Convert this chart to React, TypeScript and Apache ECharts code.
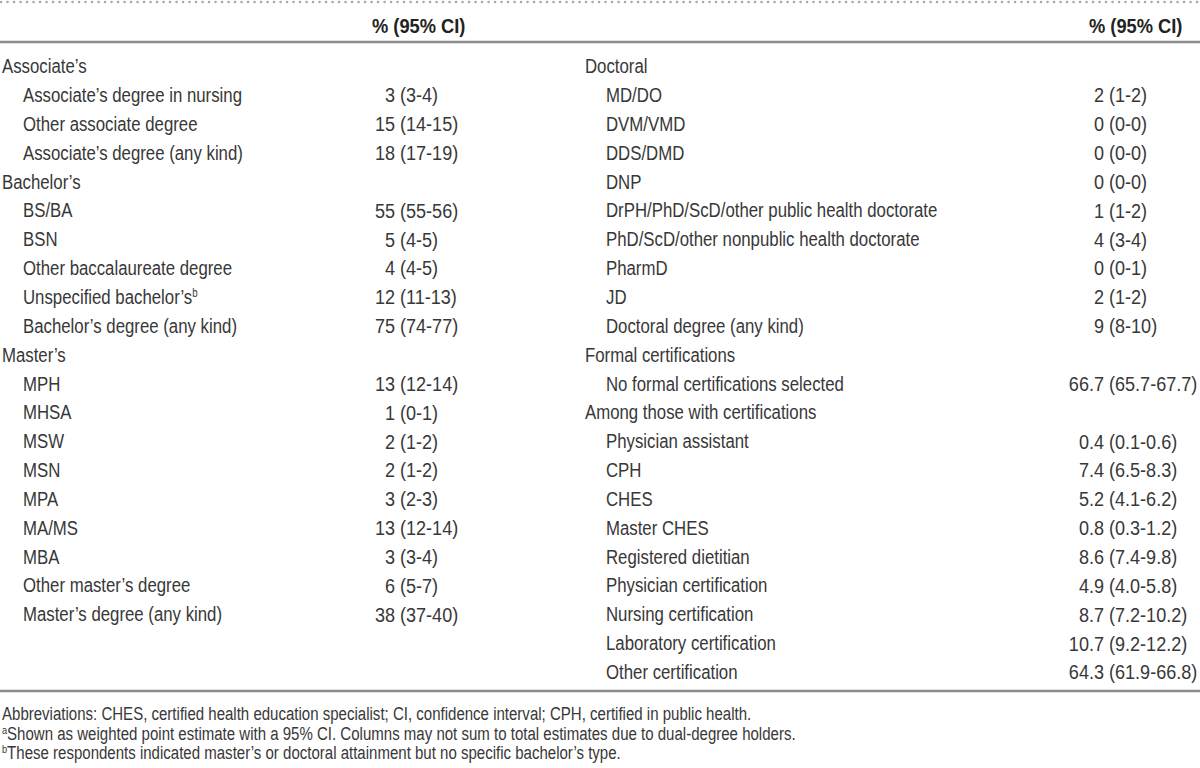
import React, { useEffect, useRef } from "react";
import * as echarts from "echarts";

// ---- Data ----
const leftLabels = [
  "Associate’s",
  "Associate’s degree in nursing",
  "Other associate degree",
  "Associate’s degree (any kind)",
  "Bachelor’s",
  "BS/BA",
  "BSN",
  "Other baccalaureate degree",
  "Unspecified bachelor’s{sup|b}",
  "Bachelor’s degree (any kind)",
  "Master’s",
  "MPH",
  "MHSA",
  "MSW",
  "MSN",
  "MPA",
  "MA/MS",
  "MBA",
  "Other master’s degree",
  "Master’s degree (any kind)",
];
const leftGroup = [1, 0, 0, 0, 1, 0, 0, 0, 0, 0, 1, 0, 0, 0, 0, 0, 0, 0, 0, 0];
const leftEstimate = ["", "3", "15", "18", "", "55", "5", "4", "12", "75", "", "13", "1", "2", "2", "3", "13", "3", "6", "38"];
const leftLower = ["", "3", "14", "17", "", "55", "4", "4", "11", "74", "", "12", "0", "1", "1", "2", "12", "3", "5", "37"];
const leftUpper = ["", "4", "15", "19", "", "56", "5", "5", "13", "77", "", "14", "1", "2", "2", "3", "14", "4", "7", "40"];

const rightLabels = [
  "Doctoral",
  "MD/DO",
  "DVM/VMD",
  "DDS/DMD",
  "DNP",
  "DrPH/PhD/ScD/other public health doctorate",
  "PhD/ScD/other nonpublic health doctorate",
  "PharmD",
  "JD",
  "Doctoral degree (any kind)",
  "Formal certifications",
  "No formal certifications selected",
  "Among those with certifications",
  "Physician assistant",
  "CPH",
  "CHES",
  "Master CHES",
  "Registered dietitian",
  "Physician certification",
  "Nursing certification",
  "Laboratory certification",
  "Other certification",
];
const rightGroup = [1, 0, 0, 0, 0, 0, 0, 0, 0, 0, 1, 0, 1, 0, 0, 0, 0, 0, 0, 0, 0, 0];
const rightEstimate = ["", "2", "0", "0", "0", "1", "4", "0", "2", "9", "", "66.7", "", "0.4", "7.4", "5.2", "0.8", "8.6", "4.9", "8.7", "10.7", "64.3"];
const rightLower = ["", "1", "0", "0", "0", "1", "3", "0", "1", "8", "", "65.7", "", "0.1", "6.5", "4.1", "0.3", "7.4", "4.0", "7.2", "9.2", "61.9"];
const rightUpper = ["", "2", "0", "0", "0", "2", "4", "1", "2", "10", "", "67.7", "", "0.6", "8.3", "6.2", "1.2", "9.8", "5.8", "10.2", "12.2", "66.8"];

const headerLabel = "% (95% CI)";
const footnotes = [
  "Abbreviations: CHES, certified health education specialist; CI, confidence interval; CPH, certified in public health.",
  "{sup|a}Shown as weighted point estimate with a 95% CI. Columns may not sum to total estimates due to dual-degree holders.",
  "{sup|b}These respondents indicated master’s or doctoral attainment but no specific bachelor’s type.",
];

// ---- Layout / style ----
const FONT = "'Liberation Sans', Arial, Helvetica, sans-serif";
const TEXT_COLOR = "#383838";
const LINE_COLOR = "#8c8c8c";
const FS = 21;
const SX = 0.8; // horizontal condensation for labels
const SX_VAL = 0.86; // condensation for numbers
const SX_HEAD = 0.87;
const SX_NOTE = 0.835;
const ROW0 = 66;
const ROW_H = 28.85;

function txt(x: number, y: number, text: string, align: string, fontSize: number, sx: number, extra: any = {}) {
  return {
    type: "text",
    x,
    y,
    scaleX: sx,
    style: {
      text,
      fontSize,
      fontFamily: FONT,
      fill: TEXT_COLOR,
      verticalAlign: "middle",
      align,
      ...extra,
    },
  };
}

function buildColumn(
  labels: string[],
  group: number[],
  est: string[],
  lo: string[],
  hi: string[],
  groupX: number,
  subX: number,
  parenX: number
) {
  const els: any[] = [];
  labels.forEach((lab, i) => {
    const y = ROW0 + i * ROW_H;
    els.push(
      txt(group[i] ? groupX : subX, y, lab, "left", FS, SX, {
        rich: {
          sup: { fontSize: 12, fontFamily: FONT, fill: TEXT_COLOR, verticalAlign: "top", padding: [0, 0, 8, 0] },
        },
      })
    );
    if (est[i]) {
      els.push(txt(parenX - 5, y, est[i], "right", FS, SX_VAL));
      els.push(txt(parenX, y, `(${lo[i]}-${hi[i]})`, "left", FS, SX_VAL));
    }
  });
  return els;
}

export default function App() {
  const ref = useRef<HTMLDivElement>(null);
  useEffect(() => {
    if (!ref.current) return;
    const chart = echarts.init(ref.current, undefined, { renderer: "svg" });
    const elements: any[] = [];
    // top dotted rule
    elements.push({
      type: "line",
      shape: { x1: 1, y1: 2, x2: 1200, y2: 2 },
      style: { stroke: "#a8a8a8", lineWidth: 2.5, lineDash: [0.1, 6.4], lineCap: "round" },
    });
    // header texts
    elements.push(txt(372, 26, headerLabel, "left", FS, SX_HEAD, { fontWeight: "bold", fill: "#222" }));
    elements.push(txt(1089, 26, headerLabel, "left", FS, SX_HEAD, { fontWeight: "bold", fill: "#222" }));
    // header rule
    elements.push({
      type: "line",
      shape: { x1: 0, y1: 42, x2: 1200, y2: 42 },
      style: { stroke: LINE_COLOR, lineWidth: 2.5 },
    });
    elements.push(...buildColumn(leftLabels, leftGroup, leftEstimate, leftLower, leftUpper, 2, 23, 400));
    elements.push(...buildColumn(rightLabels, rightGroup, rightEstimate, rightLower, rightUpper, 585, 606, 1109));
    // bottom rule
    elements.push({
      type: "line",
      shape: { x1: 0, y1: 691, x2: 1200, y2: 691 },
      style: { stroke: LINE_COLOR, lineWidth: 2.5 },
    });
    const fy = [714, 734, 753];
    footnotes.forEach((t, i) => {
      elements.push(
        txt(2, fy[i], t, "left", 18, SX_NOTE, {
          rich: {
            sup: { fontSize: 11, fontFamily: FONT, fill: TEXT_COLOR, verticalAlign: "top", padding: [0, 0, 7, 0] },
          },
        })
      );
    });
    chart.setOption({
      animation: false,
      backgroundColor: "#ffffff",
      graphic: { elements },
    });
    return () => chart.dispose();
  }, []);
  return (
    <div
      ref={ref}
      style={{ position: "absolute", left: 0, top: 0, width: 1200, height: 768, background: "#fff" }}
    />
  );
}
